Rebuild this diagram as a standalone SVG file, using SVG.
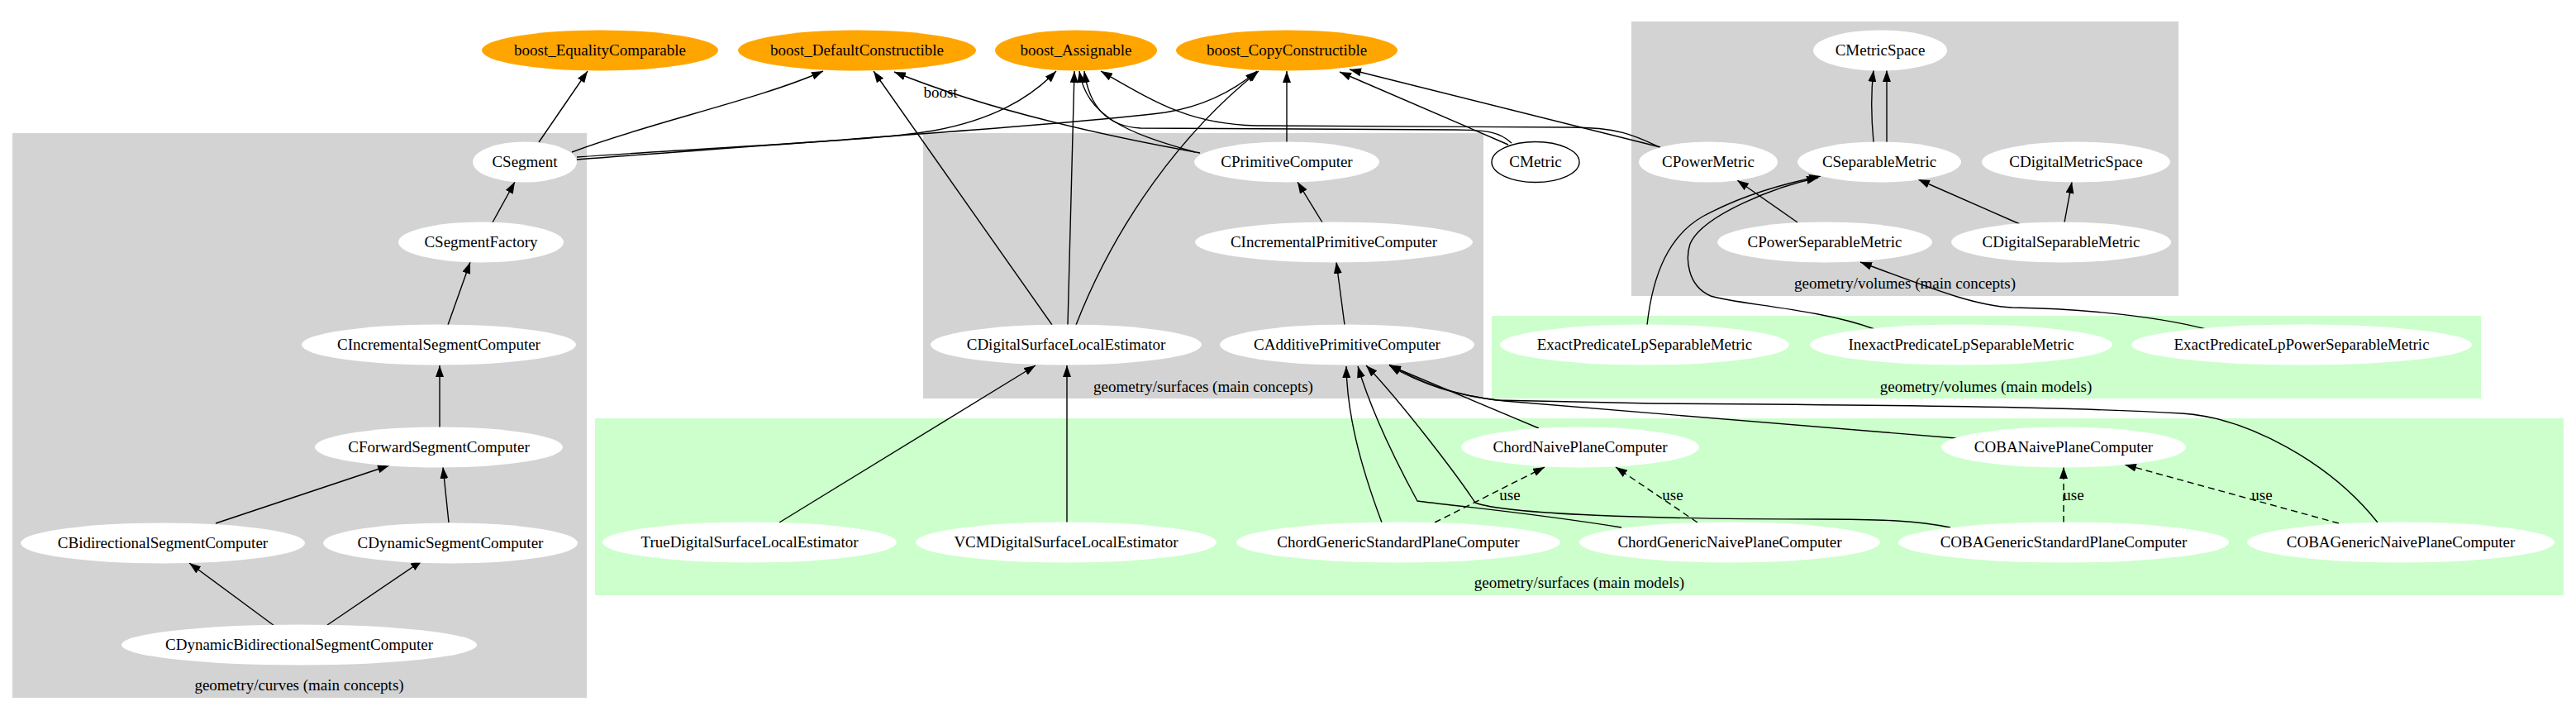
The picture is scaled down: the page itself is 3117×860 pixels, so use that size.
<svg xmlns="http://www.w3.org/2000/svg" width="3117" height="860" viewBox="0 0 3117 860">
<style>
text{font-family:"Liberation Serif","Times New Roman",serif;font-size:19px;text-anchor:middle;fill:#000}
.n{fill:#fff;stroke:none}
.b{fill:#ffa500;stroke:none}
.s{fill:#fff;stroke:#000;stroke-width:1.4}
.gc{fill:#d3d3d3}
.gm{fill:#ccffcc}
.e{fill:none;stroke:#000;stroke-width:1.4;marker-end:url(#ah)}
.d{stroke-dasharray:8,5}
</style>
<defs>
<marker id="ah" markerUnits="userSpaceOnUse" markerWidth="14" markerHeight="10" viewBox="0 0 14 10" refX="14" refY="5" orient="auto">
<path d="M0,0 L14,5 L0,10 z" fill="#000"/>
</marker>
</defs>
<rect width="3117" height="860" fill="#fff"/>
<g id="clusters">
<rect class="gc" x="15" y="161" width="695" height="683"/>
<text x="362" y="835">geometry/curves (main concepts)</text>
<rect class="gc" x="1117" y="161" width="678" height="321"/>
<text x="1456" y="474">geometry/surfaces (main concepts)</text>
<rect class="gc" x="1974" y="26" width="662" height="332"/>
<text x="2305" y="349">geometry/volumes (main concepts)</text>
<rect class="gm" x="1805" y="382" width="1197" height="100"/>
<text x="2403" y="474">geometry/volumes (main models)</text>
<rect class="gm" x="720" y="506" width="2382" height="214"/>
<text x="1911" y="711">geometry/surfaces (main models)</text>
</g>
<g id="connectors">
<path class="e" d="M652,172 L711,86"/>
<path class="e" d="M692,184 C780,150 920,120 996,86"/>
<path class="e" d="M698,190 C900,176 1060,170 1130,158 C1200,145 1245,120 1278,86"/>
<path class="e" d="M698,193 C1000,170 1300,150 1410,136 C1460,128 1495,108 1521,86"/>
<path class="e" d="M1452,185 C1340,165 1200,135 1082,87"/>
<text x="1138" y="118">boost</text>
<path class="e" d="M1446,184 C1360,160 1315,140 1306,86"/>
<path class="e" d="M1557,172 L1557,86"/>
<path class="e" d="M1829,173 C1815,160 1800,157 1760,157 L1380,155 C1340,153 1318,130 1312,86"/>
<path class="e" d="M2008,178 C1980,165 1960,154 1900,154 L1520,152 C1440,150 1400,125 1332,86"/>
<path class="e" d="M1825,175 L1621,87"/>
<path class="e" d="M2009,178 L1633,84"/>
<path class="e" d="M1273,393 L1057,86"/>
<path class="e" d="M1292,393 L1300,86"/>
<path class="e" d="M1302,393 C1350,270 1430,160 1523,86"/>
<path class="e" d="M1600,269 L1570,220"/>
<path class="e" d="M1627,393 L1617,317"/>
<path class="e" d="M2267,172 C2264,140 2264,110 2267,85"/>
<path class="e" d="M2283,172 L2283,85"/>
<path class="e" d="M2175,269 L2102,218"/>
<path class="e" d="M2444,271 L2321,217"/>
<path class="e" d="M2498,269 L2507,220"/>
<path class="e" d="M1993,393 C2000,330 2020,285 2060,262 C2110,235 2160,222 2203,213"/>
<path class="e" d="M2268,398 C2200,373 2100,368 2070,358 C2040,345 2040,310 2045,295 C2060,260 2150,225 2200,215"/>
<path class="e" d="M2669,398 C2600,380 2500,373 2435,372 C2390,370 2340,350 2251,317"/>
<path class="e" d="M596,269 L623,220"/>
<path class="e" d="M542,393 L569,317"/>
<path class="e" d="M532,517 L532,442"/>
<path class="e" d="M261,633 L471,563"/>
<path class="e" d="M543,632 L536,565"/>
<path class="e" d="M332,757 L229,681"/>
<path class="e" d="M396,756 L511,678"/>
<path class="e" d="M943,632 L1253,442"/>
<path class="e" d="M1291,632 L1291,442"/>
<path class="e" d="M1672,632 C1645,560 1630,500 1629,443"/>
<path class="e" d="M1962,638 C1850,620 1760,612 1715,606 C1690,560 1660,500 1643,443"/>
<path class="e" d="M2360,638 C2320,630 2280,628 2200,628 C2000,628 1820,622 1785,608 C1760,570 1690,480 1653,442"/>
<path class="e" d="M1862,518 L1681,442"/>
<path class="e" d="M2367,530 L1820,485 C1760,478 1720,465 1681,442"/>
<path class="e" d="M2877,632 C2820,560 2720,505 2640,500 C2500,492 2300,490 2000,488 L1810,484 C1750,476 1715,460 1681,441"/>
<path class="e d" d="M1736,632 L1869,565"/>
<text x="1827" y="605">use</text>
<path class="e d" d="M2054,632 L1955,565"/>
<text x="2024" y="605">use</text>
<path class="e d" d="M2497,632 L2497,565"/>
<text x="2509" y="605">use</text>
<path class="e d" d="M2830,633 L2571,562"/>
<text x="2737" y="605">use</text>
</g>
<g id="boost_EqualityComparable"><ellipse class="b" cx="726" cy="61" rx="143" ry="24.5"/><text x="726" y="67">boost_EqualityComparable</text></g>
<g id="boost_DefaultConstructible"><ellipse class="b" cx="1037" cy="61" rx="144" ry="24.5"/><text x="1037" y="67">boost_DefaultConstructible</text></g>
<g id="boost_Assignable"><ellipse class="b" cx="1302" cy="61" rx="98" ry="24.5"/><text x="1302" y="67">boost_Assignable</text></g>
<g id="boost_CopyConstructible"><ellipse class="b" cx="1557" cy="61" rx="134" ry="24.5"/><text x="1557" y="67">boost_CopyConstructible</text></g>
<g id="CMetricSpace"><ellipse class="n" cx="2275" cy="61" rx="81" ry="24.5"/><text x="2275" y="67">CMetricSpace</text></g>
<g id="CSegment"><ellipse class="n" cx="635" cy="196" rx="63" ry="24.5"/><text x="635" y="202">CSegment</text></g>
<g id="CPrimitiveComputer"><ellipse class="n" cx="1557" cy="196" rx="112" ry="24.5"/><text x="1557" y="202">CPrimitiveComputer</text></g>
<g id="CMetric"><ellipse class="s" cx="1858" cy="196" rx="53" ry="24.5"/><text x="1858" y="202">CMetric</text></g>
<g id="CPowerMetric"><ellipse class="n" cx="2067" cy="196" rx="84" ry="24.5"/><text x="2067" y="202">CPowerMetric</text></g>
<g id="CSeparableMetric"><ellipse class="n" cx="2274" cy="196" rx="99" ry="24.5"/><text x="2274" y="202">CSeparableMetric</text></g>
<g id="CDigitalMetricSpace"><ellipse class="n" cx="2512" cy="196" rx="114" ry="24.5"/><text x="2512" y="202">CDigitalMetricSpace</text></g>
<g id="CSegmentFactory"><ellipse class="n" cx="582" cy="293" rx="100" ry="24.5"/><text x="582" y="299">CSegmentFactory</text></g>
<g id="CIncrementalPrimitiveComputer"><ellipse class="n" cx="1614" cy="293" rx="168" ry="24.5"/><text x="1614" y="299">CIncrementalPrimitiveComputer</text></g>
<g id="CPowerSeparableMetric"><ellipse class="n" cx="2208" cy="293" rx="130" ry="24.5"/><text x="2208" y="299">CPowerSeparableMetric</text></g>
<g id="CDigitalSeparableMetric"><ellipse class="n" cx="2494" cy="293" rx="133" ry="24.5"/><text x="2494" y="299">CDigitalSeparableMetric</text></g>
<g id="CIncrementalSegmentComputer"><ellipse class="n" cx="531" cy="417" rx="166" ry="24.5"/><text x="531" y="423">CIncrementalSegmentComputer</text></g>
<g id="CDigitalSurfaceLocalEstimator"><ellipse class="n" cx="1290" cy="417" rx="164" ry="24.5"/><text x="1290" y="423">CDigitalSurfaceLocalEstimator</text></g>
<g id="CAdditivePrimitiveComputer"><ellipse class="n" cx="1630" cy="417" rx="154" ry="24.5"/><text x="1630" y="423">CAdditivePrimitiveComputer</text></g>
<g id="ExactPredicateLpSeparableMetric"><ellipse class="n" cx="1990" cy="417" rx="175" ry="24.5"/><text x="1990" y="423">ExactPredicateLpSeparableMetric</text></g>
<g id="InexactPredicateLpSeparableMetric"><ellipse class="n" cx="2373" cy="417" rx="183" ry="24.5"/><text x="2373" y="423">InexactPredicateLpSeparableMetric</text></g>
<g id="ExactPredicateLpPowerSeparableMetric"><ellipse class="n" cx="2785" cy="417" rx="206" ry="24.5"/><text x="2785" y="423">ExactPredicateLpPowerSeparableMetric</text></g>
<g id="CForwardSegmentComputer"><ellipse class="n" cx="531" cy="541" rx="150" ry="24.5"/><text x="531" y="547">CForwardSegmentComputer</text></g>
<g id="ChordNaivePlaneComputer"><ellipse class="n" cx="1912" cy="541" rx="144" ry="24.5"/><text x="1912" y="547">ChordNaivePlaneComputer</text></g>
<g id="COBANaivePlaneComputer"><ellipse class="n" cx="2497" cy="541" rx="148" ry="24.5"/><text x="2497" y="547">COBANaivePlaneComputer</text></g>
<g id="CBidirectionalSegmentComputer"><ellipse class="n" cx="197" cy="657" rx="172" ry="24.5"/><text x="197" y="663">CBidirectionalSegmentComputer</text></g>
<g id="CDynamicSegmentComputer"><ellipse class="n" cx="545" cy="657" rx="154" ry="24.5"/><text x="545" y="663">CDynamicSegmentComputer</text></g>
<g id="TrueDigitalSurfaceLocalEstimator"><ellipse class="n" cx="907" cy="656" rx="178" ry="24.5"/><text x="907" y="662">TrueDigitalSurfaceLocalEstimator</text></g>
<g id="VCMDigitalSurfaceLocalEstimator"><ellipse class="n" cx="1290" cy="656" rx="182" ry="24.5"/><text x="1290" y="662">VCMDigitalSurfaceLocalEstimator</text></g>
<g id="ChordGenericStandardPlaneComputer"><ellipse class="n" cx="1692" cy="656" rx="196" ry="24.5"/><text x="1692" y="662">ChordGenericStandardPlaneComputer</text></g>
<g id="ChordGenericNaivePlaneComputer"><ellipse class="n" cx="2093" cy="656" rx="182" ry="24.5"/><text x="2093" y="662">ChordGenericNaivePlaneComputer</text></g>
<g id="COBAGenericStandardPlaneComputer"><ellipse class="n" cx="2497" cy="656" rx="200" ry="24.5"/><text x="2497" y="662">COBAGenericStandardPlaneComputer</text></g>
<g id="COBAGenericNaivePlaneComputer"><ellipse class="n" cx="2905" cy="656" rx="186" ry="24.5"/><text x="2905" y="662">COBAGenericNaivePlaneComputer</text></g>
<g id="CDynamicBidirectionalSegmentComputer"><ellipse class="n" cx="362" cy="780" rx="215" ry="24.5"/><text x="362" y="786">CDynamicBidirectionalSegmentComputer</text></g>
</svg>
